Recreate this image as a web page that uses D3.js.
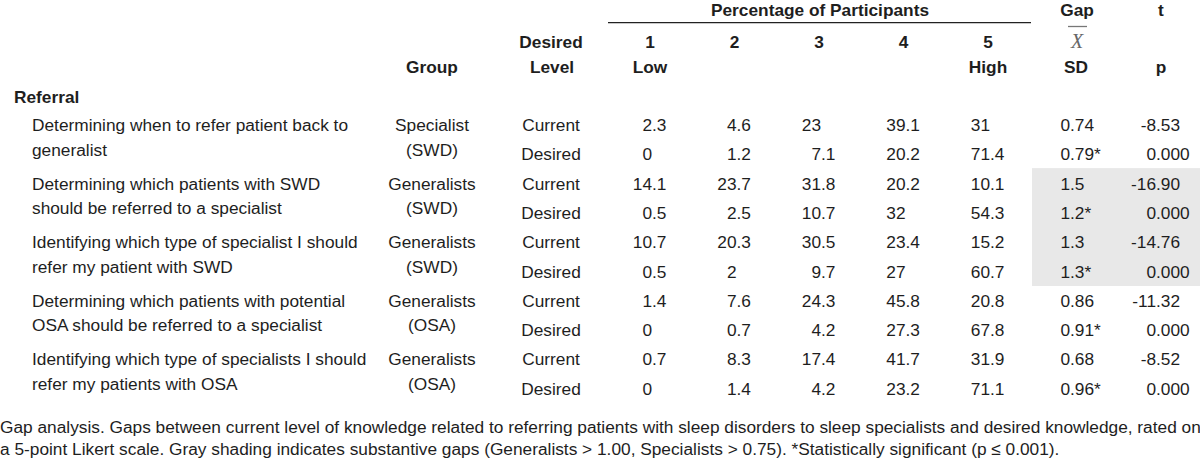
<!DOCTYPE html>
<html>
<head>
<meta charset="utf-8">
<script src="https://cdn.jsdelivr.net/npm/d3@7/dist/d3.min.js"></script>
<style>
  html, body { margin: 0; padding: 0; background: #fff; }
  svg text { font-family: "Liberation Sans", Arial, Helvetica, sans-serif; font-size: 17.3px; fill: #1e1e1e; }
  svg text.bold { font-weight: bold; }
</style>
</head>
<body>
<svg id="chart" width="1200" height="465"></svg>
<script>
// ---------- DATA ----------
const sectionTitle = "Referral";
const likertCols = ["1", "2", "3", "4", "5"];
const likertSub = ["Low", "", "", "", "High"];
const levels = ["Current", "Desired"];

const itemLabels = [
  ["Determining when to refer patient back to", "generalist"],
  ["Determining which patients with SWD", "should be referred to a specialist"],
  ["Identifying which type of specialist I should", "refer my patient with SWD"],
  ["Determining which patients with potential", "OSA should be referred to a specialist"],
  ["Identifying which type of specialists I should", "refer my patients with OSA"]
];
const itemGroups = [
  ["Specialist", "(SWD)"],
  ["Generalists", "(SWD)"],
  ["Generalists", "(SWD)"],
  ["Generalists", "(OSA)"],
  ["Generalists", "(OSA)"]
];
const currentPct = [
  [2.3, 4.6, 23, 39.1, 31],
  [14.1, 23.7, 31.8, 20.2, 10.1],
  [10.7, 20.3, 30.5, 23.4, 15.2],
  [1.4, 7.6, 24.3, 45.8, 20.8],
  [0.7, 8.3, 17.4, 41.7, 31.9]
];
const desiredPct = [
  [0, 1.2, 7.1, 20.2, 71.4],
  [0.5, 2.5, 10.7, 32, 54.3],
  [0.5, 2, 9.7, 27, 60.7],
  [0, 0.7, 4.2, 27.3, 67.8],
  [0, 1.4, 4.2, 23.2, 71.1]
];
const gapMean = [0.74, 1.5, 1.3, 0.86, 0.68];
const gapSD = [0.79, 1.2, 1.3, 0.91, 0.96];
const sdSignificant = [true, true, true, true, true];
const tValues = [-8.53, -16.90, -14.76, -11.32, -8.52];
const pValues = [0.000, 0.000, 0.000, 0.000, 0.000];
const shaded = [false, true, true, false, false];

const captionLines = [
  "Gap analysis. Gaps between current level of knowledge related to referring patients with sleep disorders to sleep specialists and desired knowledge, rated on",
  "a 5-point Likert scale. Gray shading indicates substantive gaps (Generalists > 1.00, Specialists > 0.75). *Statistically significant (p \u2264 0.001)."
];

// ---------- LAYOUT ----------
const svg = d3.select("#chart");
const W = 1200, H = 465;
svg.append("rect").attr("width", W).attr("height", H).attr("fill", "#fff");

const x = d3.scalePoint().domain(likertCols).range([650, 988]);
const colX = { label: 32, section: 14, group: 432, level: 551, gap: 1077, t: 1161 };
const nRows = itemLabels.length * 2;
const rowY = d3.scaleLinear().domain([0, nRows - 1]).range([125, 388.7]); // row text centers
const base = 6; // center -> baseline offset
const lineGap = 24.5;

// shading
itemLabels.forEach((_, i) => {
  if (!shaded[i]) return;
  svg.append("rect")
    .attr("x", 1032).attr("width", W - 1032)
    .attr("y", rowY(2 * i) - 15.5)
    .attr("height", rowY(2 * i + 1) - rowY(2 * i) + 30)
    .attr("fill", "#e8e8e8");
});

// ---------- HEADER ----------
const xMid = (x("1") + x("5")) / 2;
svg.append("text").attr("class", "bold").attr("x", xMid + 1).attr("y", 15.5)
  .attr("text-anchor", "middle").text("Percentage of Participants");
svg.append("line").attr("x1", 608).attr("x2", 1031).attr("y1", 22.7).attr("y2", 22.7)
  .attr("stroke", "#222").attr("stroke-width", 1.3);
svg.append("text").attr("class", "bold").attr("x", colX.gap).attr("y", 15.5)
  .attr("text-anchor", "middle").text("Gap");
svg.append("text").attr("class", "bold").attr("x", colX.t).attr("y", 15.5)
  .attr("text-anchor", "middle").text("t");

const h1 = 48, h2 = 72.7;
svg.append("text").attr("class", "bold").attr("x", colX.group).attr("y", h2)
  .attr("text-anchor", "middle").text("Group");
svg.append("text").attr("class", "bold").attr("x", colX.level).attr("y", h1)
  .attr("text-anchor", "middle").text("Desired");
svg.append("text").attr("class", "bold").attr("x", colX.level + 1).attr("y", h2)
  .attr("text-anchor", "middle").text("Level");

likertCols.forEach((c, k) => {
  svg.append("text").attr("class", "bold").attr("x", x(c)).attr("y", h1)
    .attr("text-anchor", "middle").text(c);
  if (likertSub[k]) {
    svg.append("text").attr("class", "bold").attr("x", x(c)).attr("y", h2)
      .attr("text-anchor", "middle").text(likertSub[k]);
  }
});
// X-bar
svg.append("text").attr("x", colX.gap).attr("y", h1)
  .attr("text-anchor", "middle")
  .style("font-family", "'Liberation Serif', 'DejaVu Serif', serif")
  .style("font-style", "italic").style("font-size", "20px").style("fill", "#666")
  .text("X");
svg.append("line").attr("x1", colX.gap - 9).attr("x2", colX.gap + 10)
  .attr("y1", 26.5).attr("y2", 26.5).attr("stroke", "#777").attr("stroke-width", 1.3);
svg.append("text").attr("class", "bold").attr("x", colX.gap - 1).attr("y", h2)
  .attr("text-anchor", "middle").text("SD");
svg.append("text").attr("class", "bold").attr("x", colX.t).attr("y", h2)
  .attr("text-anchor", "middle").text("p");

svg.append("text").attr("class", "bold").attr("x", colX.section).attr("y", 103)
  .text(sectionTitle);

// ---------- BODY ----------
function decimalText(xInt, y, str) {
  const idx = str.indexOf(".");
  const intPart = idx < 0 ? str.replace("*", "") : str.slice(0, idx);
  const rest = idx < 0 ? (str.includes("*") ? "*" : "") : str.slice(idx);
  svg.append("text").attr("x", xInt).attr("y", y).attr("text-anchor", "end").text(intPart);
  if (rest) svg.append("text").attr("x", xInt).attr("y", y).attr("text-anchor", "start").text(rest);
}

itemLabels.forEach((lbl, i) => {
  const yC = rowY(2 * i) + base;
  const yD = rowY(2 * i + 1) + base;
  svg.append("text").attr("x", colX.label).attr("y", yC).text(lbl[0]);
  svg.append("text").attr("x", colX.label).attr("y", yC + lineGap).text(lbl[1]);
  svg.append("text").attr("x", colX.group).attr("y", yC).attr("text-anchor", "middle").text(itemGroups[i][0]);
  svg.append("text").attr("x", colX.group).attr("y", yC + lineGap).attr("text-anchor", "middle").text(itemGroups[i][1]);
  svg.append("text").attr("x", colX.level).attr("y", yC).attr("text-anchor", "middle").text(levels[0]);
  svg.append("text").attr("x", colX.level).attr("y", yD).attr("text-anchor", "middle").text(levels[1]);

  likertCols.forEach((c, k) => {
    decimalText(x(c) + 2, yC, String(currentPct[i][k]));
    decimalText(x(c) + 2, yD, String(desiredPct[i][k]));
  });
  decimalText(colX.gap - 7, yC, String(gapMean[i]));
  decimalText(colX.gap - 7, yD, String(gapSD[i]) + (sdSignificant[i] ? "*" : ""));
  decimalText(colX.t - 5, yC, d3.format(".2f")(tValues[i]).replace("\u2212", "-"));
  decimalText(colX.t - 5, yD, d3.format(".3f")(pValues[i]));
});

// ---------- CAPTION ----------
captionLines.forEach((line, j) => {
  svg.append("text").attr("x", 0).attr("y", 433 + j * 22).text(line);
});
</script>
</body>
</html>
